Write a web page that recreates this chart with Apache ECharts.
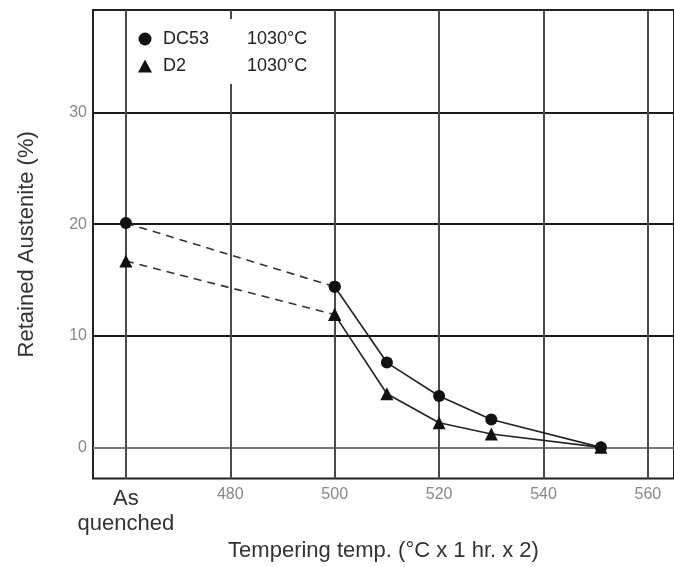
<!DOCTYPE html>
<html>
<head>
<meta charset="utf-8">
<script src="https://cdn.jsdelivr.net/npm/echarts@6/dist/echarts.min.js"></script>
<style>
  html, body { margin: 0; padding: 0; background: #fff; }
  #chart { width: 674px; height: 567px; }
</style>
</head>
<body>
<div id="chart"></div>
<script>
// 回火温度 / 残留奥氏体
var temps = [460, 500, 510, 520, 530, 551];      // 460 = As quenched
var dc53 = [20.1, 14.4, 7.6, 4.6, 2.5, 0];
var d2 = [16.7, 11.9, 4.8, 2.2, 1.2, 0];

var xTicks = [460, 480, 500, 520, 540, 560];
var xTickLabels = ['As\nquenched', '480', '500', '520', '540', '560'];
var yTicks = [0, 10, 20, 30];
var austTemp = '1030°C';

var font = "'Liberation Sans Narrow', 'Liberation Sans', Arial, sans-serif";

function pts(ys, from, to) {
    var out = [];
    for (var i = from; i < to; i++) {
        out.push([temps[i], ys[i]]);
    }
    return out;
}

var chart = echarts.init(document.getElementById('chart'));

var option = {
    animation: false,
    backgroundColor: '#fff',
    grid: {
        show: true,
        left: 93,
        right: -2,
        top: 10,
        bottom: 87,
        borderColor: '#222',
        borderWidth: 2,
        backgroundColor: 'transparent'
    },
    legend: {
        orient: 'vertical',
        left: 132,
        top: 19,
        padding: [11, 8, 9, 6],
        itemGap: 9,
        itemWidth: 14,
        itemHeight: 13,
        backgroundColor: '#fff',
        data: [
            {name: 'DC53', icon: 'circle'},
            {name: 'D2', icon: 'triangle'}
        ],
        formatter: function (name) {
            return '{a|' + name + '}{b|' + austTemp + '}';
        },
        textStyle: {
            fontFamily: font,
            fontSize: 18,
            color: '#222',
            rich: {
                a: {width: 84, padding: [0, 0, 0, 6], fontFamily: font, fontSize: 18, color: '#222'},
                b: {fontFamily: font, fontSize: 18, color: '#222'}
            }
        }
    },
    xAxis: {
        type: 'value',
        min: 453.7,
        max: 565,
        name: 'Tempering temp. (°C x 1 hr. x 2)',
        nameLocation: 'middle',
        nameGap: 56,
        nameTextStyle: {fontFamily: font, fontSize: 22, color: '#333'},
        axisLine: {show: false},
        axisTick: {show: false, customValues: xTicks},
        axisLabel: {
            customValues: xTicks,
            margin: 8,
            fontFamily: font,
            fontSize: 16,
            color: '#888',
            formatter: function (v) {
                var i = xTicks.indexOf(v);
                var t = i >= 0 ? xTickLabels[i] : '';
                return i === 0 ? '{q|' + t + '}' : t;
            },
            rich: {
                q: {fontFamily: font, fontSize: 22, color: '#333', lineHeight: 25}
            }
        },
        splitLine: {show: true, lineStyle: {color: '#4a4a4a', width: 2}}
    },
    yAxis: {
        type: 'value',
        min: -2.8,
        max: 39.2,
        name: 'Retained Austenite (%)',
        nameLocation: 'middle',
        nameGap: 55,
        nameTextStyle: {fontFamily: font, fontSize: 22, color: '#333'},
        axisLine: {show: false},
        axisTick: {show: false, customValues: yTicks},
        axisLabel: {
            customValues: yTicks,
            margin: 6,
            fontFamily: font,
            fontSize: 16,
            color: '#888'
        },
        splitLine: {show: true, lineStyle: {color: ['#777', '#1a1a1a', '#1a1a1a', '#1a1a1a'], width: 2}}
    },
    series: [
        {
            name: 'DC53',
            type: 'line',
            data: pts(dc53, 0, 2),
            symbol: 'circle',
            symbolSize: 12,
            itemStyle: {color: '#111'},
            lineStyle: {color: '#333', width: 1.6, type: [8, 6]},
            z: 3
        },
        {
            name: 'DC53',
            type: 'line',
            data: pts(dc53, 1, temps.length),
            symbol: 'circle',
            symbolSize: 12,
            itemStyle: {color: '#111'},
            lineStyle: {color: '#222', width: 1.6},
            z: 4
        },
        {
            name: 'D2',
            type: 'line',
            data: pts(d2, 0, 2),
            symbol: 'triangle',
            symbolSize: 13,
            itemStyle: {color: '#111'},
            lineStyle: {color: '#333', width: 1.6, type: [8, 6]},
            z: 3
        },
        {
            name: 'D2',
            type: 'line',
            data: pts(d2, 1, temps.length),
            symbol: 'triangle',
            symbolSize: 13,
            itemStyle: {color: '#111'},
            lineStyle: {color: '#222', width: 1.6},
            z: 4
        }
    ]
};

chart.setOption(option);
</script>
</body>
</html>
